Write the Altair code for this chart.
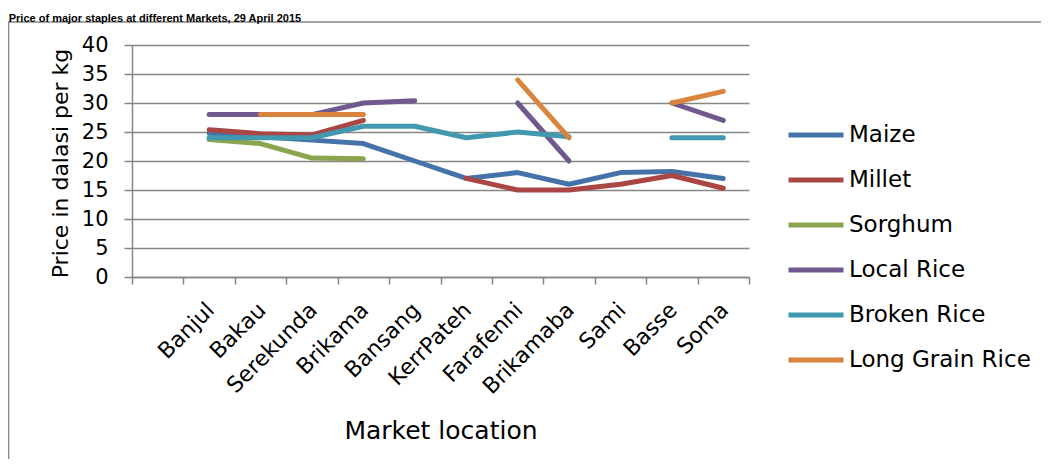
import altair as alt
import pandas as pd

# ---- data ----
blank_category = " "
markets = ["Banjul", "Bakau", "Serekunda", "Brikama", "Bansang", "KerrPateh",
           "Farafenni", "Brikamaba", "Sami", "Basse", "Soma"]

maize       = [24.8, 24.2, 23.6, 23.0, 20.0, 17.0, 18.0, 16.0, 18.0, 18.2, 17.0]
millet      = [25.4, 24.7, 24.5, 27.0, None, 17.0, 15.0, 15.0, 16.0, 17.5, 15.3]
sorghum     = [23.7, 23.0, 20.5, 20.4, None, None, None, None, None, None, None]
local_rice  = [28.0, 28.0, 28.0, 30.0, 30.4, None, 30.0, 20.0, None, 30.0, 27.0]
broken_rice = [24.0, 24.0, 24.0, 26.0, 26.0, 24.0, 25.0, 24.2, None, 24.0, 24.0]
long_grain  = [None, 28.0, 28.0, 28.0, None, None, 34.0, 24.0, None, 30.0, 32.0]

series_names = ["Maize", "Millet", "Sorghum", "Local Rice", "Broken Rice", "Long Grain Rice"]
series_colors = ["#4573A9", "#AA4643", "#89A54E", "#71588F", "#4198AF", "#DB843D"]
y_ticks = [0, 5, 10, 15, 20, 25, 30, 35, 40]

title_text = "Price of major staples at different Markets, 29 April 2015"

# ---- long table, one path segment per run of known prices ----
rows = []
seg = 0
for name, vals in zip(series_names,
                      [maize, millet, sorghum, local_rice, broken_rice, long_grain]):
    prev = None
    for i, (m, v) in enumerate(zip(markets, vals)):
        if v is None:
            prev = None
            continue
        if prev is None:
            seg += 1
        rows.append({"market": m, "series": name, "price": v, "seg": seg, "idx": i})
        prev = v
df = pd.DataFrame(rows)

FONT = "DejaVu Sans"
GREY = "#868686"

lines = alt.Chart(df).mark_line(strokeWidth=5, strokeCap="round", strokeJoin="round").encode(
    x=alt.X("market:N",
            bandPosition=0.5,
            scale=alt.Scale(type="band", domain=[blank_category] + markets,
                            paddingInner=0, paddingOuter=0),
            axis=alt.Axis(title="Market location", labelAngle=-45, labelAlign="right",
                          labelBaseline="top", labelFontSize=22, labelPadding=15,
                          labelOffset=-6, tickBand="extent", tickSize=7, tickWidth=1.5,
                          tickColor=GREY, domainColor=GREY, domainWidth=1.5, grid=False,
                          titleFontSize=25, titleY=141, labelColor="black",
                          titleColor="black", titleFontWeight="normal", labelLimit=0)),
    y=alt.Y("price:Q",
            scale=alt.Scale(domain=[0, 40], nice=False),
            axis=alt.Axis(title="Price in dalasi per kg", values=y_ticks, labelFontSize=21,
                          labelPadding=16, tickSize=8, tickWidth=1.5, tickColor=GREY,
                          domainColor=GREY, domainWidth=1.5, grid=True, gridColor=GREY,
                          gridWidth=1.5, titleFontSize=22, titleX=-60, titleY=118,
                          labelColor="black", titleColor="black", titleFontWeight="normal")),
    color=alt.Color("series:N",
                    scale=alt.Scale(domain=series_names, range=series_colors),
                    legend=alt.Legend(title=None, orient="none", legendX=654, legendY=60,
                                      symbolType="stroke", symbolSize=3025,
                                      symbolStrokeWidth=5, labelFontSize=23,
                                      labelColor="black", labelOffset=3, rowPadding=3,
                                      padding=0, labelLimit=0)),
    detail="seg:N",
    order="idx:Q",
)

frame = alt.Chart(pd.DataFrame({"f": [0]})).mark_rect(
    fillOpacity=0, stroke=GREY, strokeWidth=1.5
).encode(
    x=alt.value(-123.5), y=alt.value(-23), x2=alt.value(1000), y2=alt.value(500)
)

chart = alt.layer(frame, lines).properties(
    width=617,
    height=232,
    title=alt.TitleParams(text=title_text, anchor="start", font="Liberation Sans",
                          fontSize=11, fontWeight="bold", color="black",
                          baseline="alphabetic", offset=3, dx=1, dy=14.5),
    autosize=alt.AutoSizeParams(type="none"),
    padding={"left": 124, "top": 37, "right": 292, "bottom": 182},
).configure_view(strokeWidth=0).configure_axis(
    labelFont=FONT, titleFont=FONT
).configure_legend(labelFont=FONT)

chart.save("out.html", embed_options={"renderer": "svg", "actions": False})
